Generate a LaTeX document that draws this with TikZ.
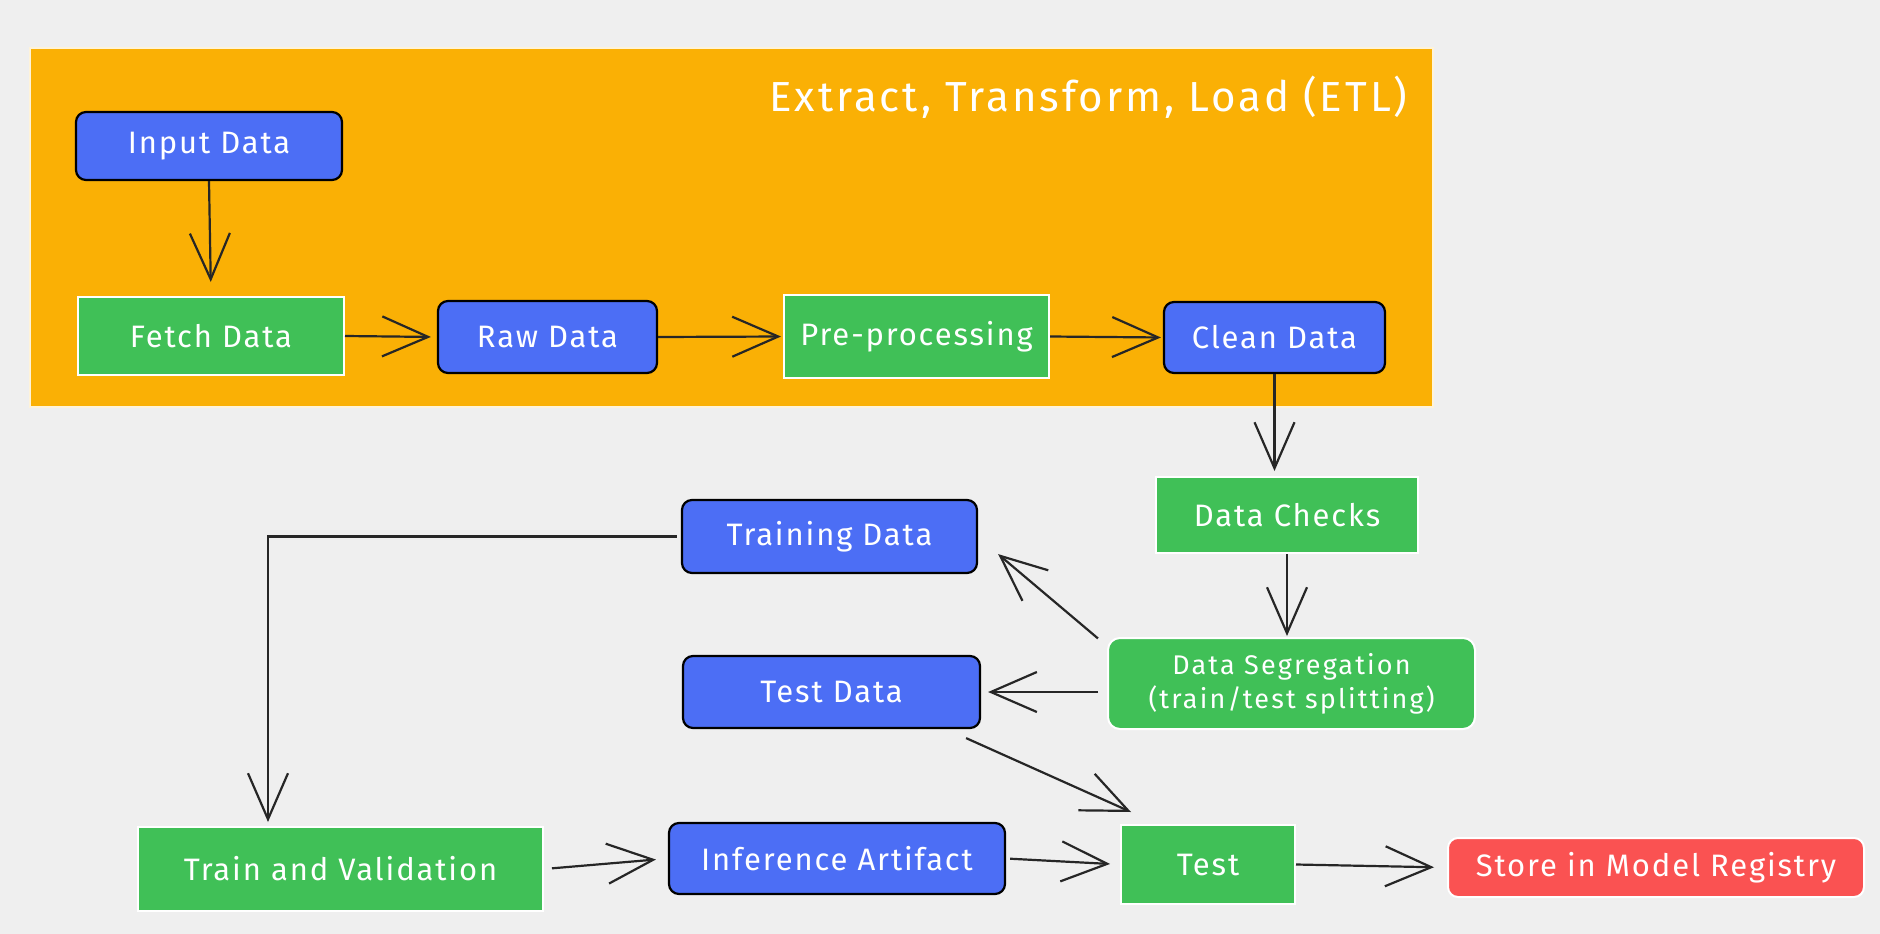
\documentclass[tikz,border=0pt]{standalone}
\usepackage{fontspec}
\setmainfont{Fira Sans}
\newfontfamily\lblfont[LetterSpace=6]{Fira Sans}
\newfontfamily\segfont[LetterSpace=8]{Fira Sans}
\newfontfamily\titlefont[LetterSpace=7]{Fira Sans}
\usetikzlibrary{arrows.meta}
\definecolor{bg}{HTML}{EFEFEF}
\definecolor{etl}{HTML}{FAB005}
\definecolor{grn}{HTML}{40C057}
\definecolor{blu}{HTML}{4C6EF5}
\definecolor{redc}{HTML}{FA5252}
\tikzset{
  lbl/.style={text=white, font=\lblfont\fontsize{31}{35}\selectfont},
  bluebox/.style={lbl, fill=blu, draw=black, line width=2.2pt, rounded corners=10pt},
  greenbox/.style={lbl, fill=grn, draw=white, line width=2pt},
  redbox/.style={lbl, fill=redc, draw=white, line width=2pt, rounded corners=10pt},
  arr/.style={draw=black!85, line width=2.2pt, -{Straight Barb[length=46pt,width=40pt,line width=2.2pt]}},
}
\begin{document}
\begin{tikzpicture}[x=1pt,y=-1pt]
\useasboundingbox (0,0) rectangle (1880,934);
\fill[bg] (0,0) rectangle (1880,934);
\draw[fill=etl, draw=white!85!etl, line width=2.5pt] (30,48) rectangle (1433,407);
\node[anchor=east, text=white, font=\titlefont\fontsize{42}{48}\selectfont] (title) at (1411,97) {Extract, Transform, Load (ETL)};

\node[bluebox, minimum width=266pt, minimum height=68pt] (inp) at (209,146) {Input Data};
\node[greenbox, minimum width=266pt, minimum height=78pt] (fetch) at (211,336) {Fetch Data};
\node[bluebox, minimum width=219pt, minimum height=72pt] (raw) at (547.5,337) {Raw Data};
\node[greenbox, minimum width=265pt, minimum height=83pt] (pre) at (916.5,336.5) {Pre-processing};
\node[bluebox, minimum width=221pt, minimum height=71pt] (clean) at (1274.5,337.5) {Clean Data};
\node[greenbox, minimum width=262pt, minimum height=76pt] (checks) at (1287,515) {Data Checks};
\node[bluebox, minimum width=295pt, minimum height=73pt] (traind) at (829.5,536.5) {Training Data};
\node[bluebox, minimum width=297pt, minimum height=72pt] (testd) at (831.5,692) {Test Data};
\node[greenbox, rounded corners=12pt, minimum width=367pt, minimum height=91pt, align=center, font=\segfont\fontsize{27}{34}\selectfont] (seg) at (1291.5,683.5) {Data Segregation\\(train/test splitting)};
\node[greenbox, minimum width=405pt, minimum height=84pt] (tv) at (340.5,869) {Train and Validation};
\node[bluebox, minimum width=336pt, minimum height=71pt] (inf) at (837,858.5) {Inference Artifact};
\node[greenbox, minimum width=174pt, minimum height=79pt] (test) at (1208,864.5) {Test};
\node[redbox, minimum width=416pt, minimum height=59pt] (store) at (1656,867.5) {Store in Model Registry};

\coordinate (bend) at (268,0);
\coordinate (t1) at ([xshift=20pt,yshift=20pt]traind.south east);
\coordinate (s1) at ([xshift=-15pt,yshift=-9pt]testd.south east);
\coordinate (t2) at ([xshift=11pt,yshift=12pt]test.north west);

\draw[arr, shorten >=14pt] (inp.south) -- (fetch.north);
\draw[arr, shorten >=6pt] (fetch.east) -- (raw.west);
\draw[arr, shorten >=2pt] (raw.east) -- (pre.west);
\draw[arr, shorten >=2pt] (pre.east) -- (clean.west);
\draw[arr, shorten >=5pt] (clean.south) -- (clean.south |- checks.north);
\draw[arr, shorten >=1pt] (checks.south) -- (checks.south |- seg.north);
\draw[arr, shorten <=4pt] ([xshift=-6pt,yshift=-4pt]seg.north west) -- (t1);
\draw[arr, shorten <=9pt, shorten >=7pt] (seg.west |- testd.east) -- (testd.east);
\draw[arr, shorten <=4pt, shorten >=4pt] (traind.west) -| (bend |- tv.north);
\draw[arr] (s1) -- (t2);
\draw[arr, shorten <=8pt, shorten >=12pt] (tv.east) -- (inf.west);
\draw[arr, shorten <=4pt, shorten >=10pt] (inf.east) -- (test.west);
\draw[arr, shorten >=13pt] (test.east) -- (store.west);
\end{tikzpicture}
\end{document}
